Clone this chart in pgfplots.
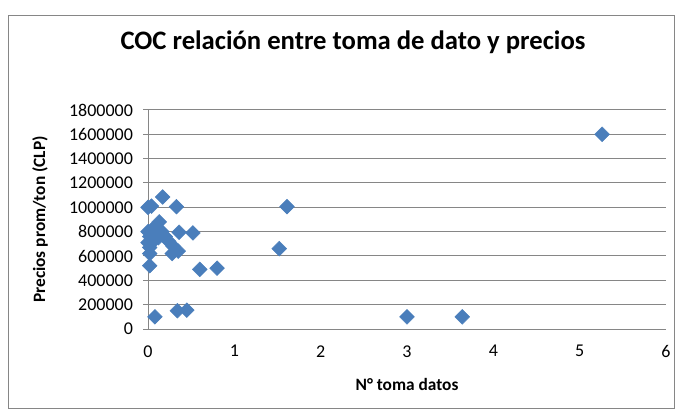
\documentclass[border=0pt]{standalone}
\usepackage{pgfplots}
\pgfplotsset{compat=1.18}
\usepackage{fontspec}
\setmainfont{Carlito}
\definecolor{excelblue}{RGB}{74,126,187}
\definecolor{gridgray}{RGB}{134,134,134}
\begin{document}
\begin{tikzpicture}[x=0.75pt,y=0.75pt]
% chart area (1 px of the reference = 0.75pt)
\path[use as bounding box] (0,0) rectangle (677,410);
\draw[gridgray, line width=0.75pt] (8,2) rectangle (674,394);
\node[font=\fontsize{20}{24}\selectfont\bfseries] at (353,368) {COC relación entre toma de dato y precios};
\begin{axis}[
    at={(111pt,60.75pt)}, anchor=south west,
    scale only axis,
    width=388.5pt, height=164.25pt,
    xmin=0, xmax=6, ymin=0, ymax=1800000,
    xtick={0,1,...,6},
    ytick={0,200000,...,1800000},
    axis lines=left,
    axis line style={-, draw=gridgray, line width=0.75pt},
    tick style={draw=gridgray, line width=0.75pt},
    tick align=outside,
    major tick length=3.75pt,
    xtick style={draw=none},
    ymajorgrids,
    grid style={gridgray, line width=0.75pt},
    scaled y ticks=false,
    /pgf/number format/.cd, fixed, 1000 sep={}, assume math mode=true,
    /pgfplots/.cd,
    tick label style={font=\fontsize{13.5}{15}\selectfont},
    yticklabel style={xshift=-4pt},
    xticklabel style={yshift=-5pt},
    label style={font=\fontsize{13}{15}\selectfont\bfseries},
    xlabel={N° toma datos},
    ylabel={Precios prom/ton (CLP)},
    xlabel style={yshift=-9pt},
    ylabel style={yshift=9pt},
    clip=false,
]
\addplot[only marks, mark=square*, mark size=3.9pt,
    mark options={rotate=45, fill=excelblue, draw=excelblue}]
coordinates {
(5.26,1600000)
(1.61,1005000)
(1.52,660000)
(3.00,100000)
(3.64,100000)
(0.17,1085000)
(0.00,1000000)
(0.04,1010000)
(0.33,1005000)
(0.13,880000)
(0.36,795000)
(0.52,790000)
(0.29,680000)
(0.35,640000)
(0.28,620000)
(0.02,620000)
(0.02,520000)
(0.60,490000)
(0.80,500000)
(0.08,100000)
(0.34,150000)
(0.45,155000)
(0.00,800000)
(0.02,760000)
(0.05,820000)
(0.10,790000)
(0.16,800000)
(0.20,760000)
(0.00,710000)
(0.06,720000)
(0.24,720000)
(0.09,840000)
(0.02,670000)
(0.12,750000)
};
\end{axis}
\end{tikzpicture}
\end{document}
